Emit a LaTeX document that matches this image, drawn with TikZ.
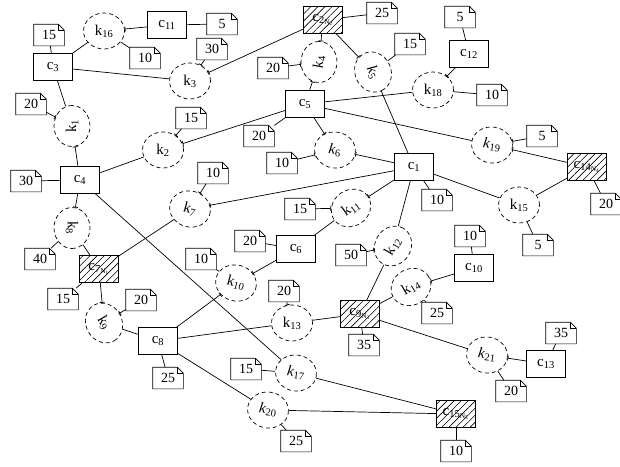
\documentclass[tikz,border=0pt]{standalone}
\usepackage{fontspec}
\setmainfont{Liberation Serif}
\usetikzlibrary{shapes.geometric,patterns.meta,arrows.meta}
\newcommand\notebox[3]{%
  \node[notenode] (#1) at (#2) {#3};
  \draw (#1.south west) -- (#1.north west) -- ([xshift=-6pt]#1.north east) -- ([yshift=-6pt]#1.north east) -- (#1.south east) -- cycle;
  \draw ([xshift=-6pt]#1.north east) |- ([yshift=-6pt]#1.north east);
}
\begin{document}
\begin{tikzpicture}[x=1pt,y=-1pt,line width=0.7pt,
  cbox/.style={draw,rectangle,minimum width=39pt,minimum height=27pt,inner sep=0pt,font=\fontsize{15}{16}\selectfont},
  hbox/.style={cbox,pattern={Lines[angle=45,distance=5pt,line width=0.6pt]}},
  kell/.style={draw,ellipse,dash pattern=on 4pt off 3pt,minimum width=41pt,minimum height=36pt,inner sep=0pt,font=\fontsize{15}{16}\selectfont},
  notenode/.style={rectangle,minimum width=30pt,minimum height=21pt,inner sep=0pt,font=\fontsize{14}{15}\selectfont},
  teeend/.style={-{Bar[width=5pt,line width=0.7pt]}}
]
\useasboundingbox (0,0) rectangle (620,466);
\clip (0,0) rectangle (620,466);
% c nodes
\node[cbox] (c3) at (53,67) {c\textsubscript{3}};
\node[cbox] (c11) at (167,25) {c\textsubscript{11}};
\node[hbox] (c2) at (323,20) {c\textsubscript{2\textsubscript{N\textsubscript{2}}}};
\node[cbox] (c5) at (305,104) {c\textsubscript{5}};
\node[cbox] (c12) at (469,54) {c\textsubscript{12}};
\node[cbox] (c1) at (414,167) {c\textsubscript{1}};
\node[cbox] (c4) at (80,180) {c\textsubscript{4}};
\node[hbox] (c14) at (587,167) {c\textsubscript{14\textsubscript{N\textsubscript{4}}}};
\node[hbox] (c7) at (99,269) {c\textsubscript{7\textsubscript{N\textsubscript{1}}}};
\node[cbox] (c6) at (296,249) {c\textsubscript{6}};
\node[cbox] (c10) at (474,268) {c\textsubscript{10}};
\node[hbox] (c9) at (360,314) {c\textsubscript{9\textsubscript{N\textsubscript{3}}}};
\node[cbox] (c8) at (158,341) {c\textsubscript{8}};
\node[cbox] (c13) at (546,364) {c\textsubscript{13}};
\node[hbox] (c15) at (456,414) {c\textsubscript{15\textsubscript{N\textsubscript{5}}}};
% k nodes
\node[kell] (k16) at (104,31) {k\textsubscript{16}};
\node[kell] (k3) at (190,81) {k\textsubscript{3}};
\node[kell,rotate=90] (k1) at (72,126) {k\textsubscript{1}};
\node[kell] (k2) at (163,150) {k\textsubscript{2}};
\node[kell,rotate=90] (k4) at (319,62) {\textit{k}\textsubscript{4}};
\node[kell,rotate=-65] (k5) at (373,72) {\textit{k}\textsubscript{5}};
\node[kell,rotate=-8] (k6) at (335,150) {\textit{k}\textsubscript{6}};
\node[kell] (k18) at (433,90) {k\textsubscript{18}};
\node[kell,rotate=-8] (k19) at (492,145) {\textit{k}\textsubscript{19}};
\node[kell,rotate=-15] (k7) at (190,209) {k\textsubscript{7}};
\node[kell,rotate=-90] (k8) at (72,228) {k\textsubscript{8}};
\node[kell,rotate=35] (k11) at (351,208) {k\textsubscript{11}};
\node[kell,rotate=60] (k12) at (393,246) {k\textsubscript{12}};
\node[kell,rotate=-15] (k10) at (236,283) {k\textsubscript{10}};
\node[kell,rotate=30] (k14) at (411,287) {k\textsubscript{14}};
\node[kell] (k15) at (519,205) {k\textsubscript{15}};
\node[kell,rotate=-60] (k9) at (104,323) {k\textsubscript{9}};
\node[kell] (k13) at (292,323) {k\textsubscript{13}};
\node[kell,rotate=-8] (k17) at (296,373) {\textit{k}\textsubscript{17}};
\node[kell,rotate=-8] (k20) at (268,410) {\textit{k}\textsubscript{20}};
\node[kell,rotate=-8] (k21) at (487,355) {\textit{k}\textsubscript{21}};
% notes
\notebox{n1}{49,35}{15}
\notebox{n2}{222,24}{5}
\notebox{n3}{145,58}{10}
\notebox{n4}{212,49}{30}
\notebox{n5}{31,104}{20}
\notebox{n6}{191,118}{15}
\notebox{n7}{382,13}{25}
\notebox{n8}{273,68}{20}
\notebox{n9}{410,44}{15}
\notebox{n10}{259,136}{20}
\notebox{n11}{282,163}{10}
\notebox{n12}{460,17}{5}
\notebox{n13}{492,95}{10}
\notebox{n14}{542,136}{5}
\notebox{n15}{26,181}{30}
\notebox{n16}{213,173}{10}
\notebox{n17}{40,259}{40}
\notebox{n18}{63,299}{15}
\notebox{n19}{141,300}{20}
\notebox{n20}{201,259}{10}
\notebox{n21}{300,209}{15}
\notebox{n22}{250,241}{20}
\notebox{n23}{351,255}{50}
\notebox{n24}{284,291}{20}
\notebox{n25}{437,200}{10}
\notebox{n26}{606,204}{20}
\notebox{n27}{538,245}{5}
\notebox{n28}{470,236}{10}
\notebox{n29}{437,313}{25}
\notebox{n30}{364,345}{35}
\notebox{n31}{246,369}{15}
\notebox{n32}{296,441}{25}
\notebox{n33}{168,378}{25}
\notebox{n34}{561,333}{35}
\notebox{n35}{511,391}{20}
\notebox{n36}{456,451}{10}
% plain edges
\draw (c3) -- (n1);
\draw (c11) -- (n2);
\draw (k16) -- (n3);
\draw (c3) -- (k16);
\draw (c3) -- (k3);
\draw (c3) -- (k1);
\draw (c2) -- (n7);
\draw (k5) -- (n9);
\draw (k5) -- (c1);
\draw (c5) -- (n10);
\draw (c5) -- (k18);
\draw (c5) -- (k19);
\draw (c12) -- (n12);
\draw (k18) -- (n13);
\draw (c1) -- (n25);
\draw (c1) -- (k15);
\draw (c14) -- (k15);
\draw (c14) -- (n26);
\draw (k15) -- (n27);
\draw (c4) -- (n15);
\draw (c4) -- (k2);
\draw (c7) -- (k7);
\draw (k8) -- (n17);
\draw (k8) -- (c7);
\draw (c4) -- (k17);
\draw (c7) -- (n18);
\draw (k9) -- (c8);
\draw (c8) -- (n33);
\draw (k10) -- (n20);
\draw (c6) -- (n22);
\draw (c6) -- (k11);
\draw (c1) -- (k12);
\draw (k12) -- (c9);
\draw (c8) -- (k13);
\draw (k13) -- (c9);
\draw (c9) -- (n30);
\draw (c9) -- (k14);
\draw (c10) -- (n28);
\draw (k14) -- (n29);
\draw (c9) -- (k21);
\draw (c13) -- (n34);
\draw (k21) -- (n35);
\draw (c8) -- (k20);
\draw (k20) -- (n32);
\draw (k20) -- (c15);
\draw (k17) -- (c15);
\draw (k17) -- (n31);
\draw (c15) -- (n36);
% tee edges
\draw[teeend] (c11) -- (k16);
\draw[teeend] (n4) -- (k3);
\draw[teeend] (c2) -- (k3);
\draw[teeend] (n5) -- (k1);
\draw[teeend] (c4) -- (k1);
\draw[teeend] (c5) -- (k2);
\draw[teeend] (n6) -- (k2);
\draw[teeend] (c2) -- (k4);
\draw[teeend] (c2) -- (k5);
\draw[teeend] (n8) -- (k4);
\draw[teeend] (c5) -- (k4);
\draw[teeend] (c5) -- (k6);
\draw[teeend] (n11) -- (k6);
\draw[teeend] (c1) -- (k6);
\draw[teeend] (c12) -- (k18);
\draw[teeend] (n14) -- (k19);
\draw[teeend] (c14) -- (k19);
\draw[teeend] (c1) -- (k7);
\draw[teeend] (n16) -- (k7);
\draw[teeend] (c4) -- (k8);
\draw[teeend] (c7) -- (k9);
\draw[teeend] (n19) -- (k9);
\draw[teeend] (c8) -- (k10);
\draw[teeend] (c6) -- (k10);
\draw[teeend] (n21) -- (k11);
\draw[teeend] (c1) -- (k11);
\draw[teeend] (n23) -- (k12);
\draw[teeend] (n24) -- (k13);
\draw[teeend] (c10) -- (k14);
\draw[teeend] (c13) -- (k21);
\end{tikzpicture}
\end{document}
